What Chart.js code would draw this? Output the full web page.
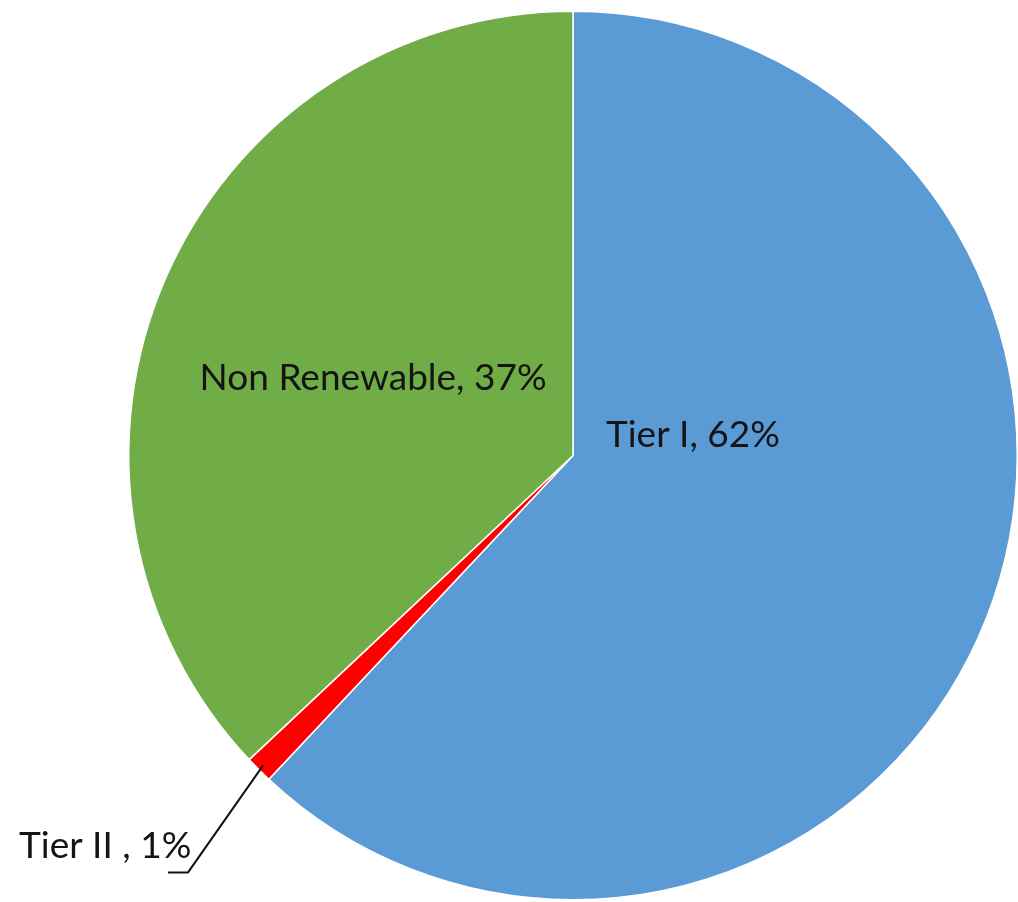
<!DOCTYPE html>
<html>
<head>
<meta charset="utf-8">
<script src="https://cdn.jsdelivr.net/npm/chart.js@4.4.0/dist/chart.umd.min.js"></script>
<style>
  html, body { margin: 0; padding: 0; background: #fff; }
  #wrap { width: 1018px; height: 902px; }
</style>
</head>
<body>
<div id="wrap"><canvas id="myChart" width="1018" height="902"></canvas></div>
<script>
// données du graphique
const categories = ["Tier I", "Tier II ", "Non Renewable"];
const shares = [62, 1, 37];
const colors = ["#5B9BD5", "#FF0000", "#70AD47"];

// position des étiquettes (relative au centre, en fraction du rayon)
const labelPos = [
    { dx: 0.27, dy: -0.045, align: "center" },
    { dx: -1.247, dy: 0.88, align: "left", leader: true },
    { dx: -0.45, dy: -0.175, align: "center" }
];

/**
 * plugin : étiquettes "nom, xx%" et trait de rappel
 */
const pieLabels = {
    id: "pieLabels",
    afterDatasetsDraw(chart) {
        const ctx = chart.ctx;
        const meta = chart.getDatasetMeta(0);
        ctx.save();
        ctx.font = "37px Lato, 'Open Sans', sans-serif";
        ctx.fillStyle = "#141414";
        ctx.textBaseline = "middle";
        meta.data.forEach((arc, i) => {
            const r = arc.outerRadius;
            const x = arc.x + labelPos[i].dx * r;
            const y = arc.y + labelPos[i].dy * r;
            ctx.textAlign = labelPos[i].align;
            ctx.fillText(categories[i] + ", " + shares[i] + "%", x, y);
            if (labelPos[i].leader) {
                const mid = (arc.startAngle + arc.endAngle) / 2;
                const ex = arc.x + Math.cos(mid) * (r - 6);
                const ey = arc.y + Math.sin(mid) * (r - 6);
                ctx.strokeStyle = "#111";
                ctx.lineWidth = 2;
                ctx.beginPath();
                ctx.moveTo(ex, ey);
                ctx.lineTo(x + 169, y + 26);
                ctx.lineTo(x + 149, y + 26);
                ctx.stroke();
            }
        });
        ctx.restore();
    }
};

const canvas = document.getElementById("myChart");
const myChart = new Chart(canvas.getContext("2d"), {
    type: "pie",
    data: {
        labels: categories,
        datasets: [{
            data: shares,
            backgroundColor: colors,
            borderColor: "#ffffff",
            borderWidth: 1.5
        }]
    },
    options: {
        responsive: false,
        animation: false,
        layout: { padding: { left: 128, top: 9, right: 0, bottom: 0 } },
        plugins: {
            legend: { display: false },
            tooltip: { enabled: false }
        }
    },
    plugins: [pieLabels]
});
</script>
</body>
</html>
